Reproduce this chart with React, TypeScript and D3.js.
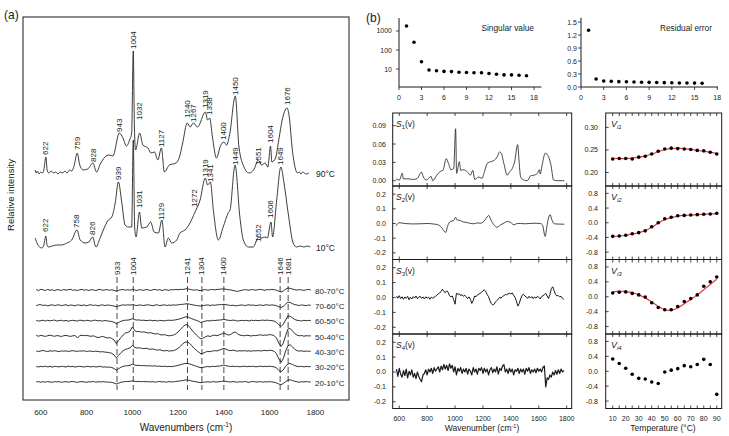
import React from "react";
import * as d3 from "d3";

type Pt = [number, number];

const FONT = "'Liberation Sans', Arial, Helvetica, sans-serif";
const INK = "#1a1a1a";

// ---------------- Panel (a) data ----------------
const spectrum90: Pt[] = [
  [575, 2], [580, -1], [585, 1], [592, -2], [600, 0], [607, -1], [613, 2], [622, 15], [628, 1], [635, -1],
  [645, 1], [655, -1], [665, 0], [675, -2], [685, 0], [695, -1], [705, 1], [715, -1], [725, 2], [735, 1],
  [745, 6], [759, 19], [770, 7], [785, 2], [805, 3], [828, 9], [843, 0], [860, 8], [880, 15], [898, 17],
  [915, 16], [943, 39], [959, 34], [974, 26], [988, 32], [997, 39], [1004, 121], [1009, 45], [1014, 22],
  [1032, 39], [1046, 27], [1068, 24], [1082, 19], [1097, 20], [1111, 12], [1127, 24], [1140, 0], [1162, 7],
  [1191, 9], [1206, 15], [1220, 29], [1240, 49], [1253, 45], [1267, 49], [1285, 45], [1319, 60], [1329, 52],
  [1338, 54], [1350, 35], [1368, 14], [1385, 26], [1400, 30], [1412, 27], [1425, 37], [1450, 76], [1466, 25],
  [1488, 5], [1510, -1], [1530, 2], [1551, 12], [1565, 7], [1580, 9], [1592, 5], [1604, 26], [1610, 10],
  [1626, 14], [1640, 32], [1655, 52], [1676, 64], [1686, 55], [1698, 25], [1713, 3], [1722, -1], [1730, 0],
  [1737, -2], [1745, 0], [1752, -1], [1760, -2], [1772, -1],
];

const spectrum10: Pt[] = [
  [575, 9], [585, 3], [595, 0], [604, -1], [612, 1], [622, 11], [627, 2], [633, 0], [650, 1], [670, 2],
  [690, 2], [714, 4], [735, 7], [758, 17], [772, 7], [793, 4], [810, 5], [826, 10], [841, 0], [859, 9],
  [873, 17], [895, 27], [910, 30], [925, 44], [939, 65], [954, 44], [968, 22], [982, 20], [997, 20],
  [1004, 107], [1010, 20], [1016, 10], [1031, 35], [1041, 19], [1063, 20], [1080, 25], [1095, 15], [1114, 14],
  [1129, 27], [1143, 0], [1157, 9], [1172, 4], [1194, 7], [1208, 14], [1230, 17], [1252, 24], [1272, 34],
  [1296, 47], [1319, 69], [1329, 62], [1341, 65], [1354, 37], [1376, 7], [1397, 20], [1419, 34], [1427, 37],
  [1449, 82], [1470, 30], [1485, 7], [1507, 0], [1528, 0], [1552, 10], [1565, 9], [1579, 10], [1590, 9],
  [1606, 25], [1613, 10], [1631, 47], [1649, 80], [1663, 64], [1681, 34], [1703, 4], [1718, 0], [1735, 1],
  [1750, 0], [1765, 1], [1778, 0],
];

// peak labels: [wavenumber, height of label foot above the trace baseline]
const peaks90: Pt[] = [
  [622, 17], [759, 22], [828, 10], [943, 40], [1004, 123], [1032, 52], [1127, 25], [1240, 54],
  [1267, 50], [1319, 64], [1338, 57], [1400, 32], [1450, 77], [1551, 7], [1604, 29], [1676, 67],
];
const peaks10: Pt[] = [
  [622, 15], [758, 19], [826, 12], [939, 67], [1031, 39], [1129, 27], [1272, 40], [1319, 70],
  [1341, 65], [1449, 82], [1552, 5], [1606, 29], [1649, 82],
];

const diffWavenumbers = [
  580, 590, 600, 610, 620, 630, 640, 650, 660, 670,
  680, 690, 700, 710, 720, 730, 740, 750, 760, 770,
  780, 790, 800, 810, 820, 830, 840, 850, 860, 870,
  880, 890, 900, 910, 920, 930, 940, 950, 960, 970,
  980, 990, 1000, 1010, 1020, 1030, 1040, 1050, 1060, 1070,
  1080, 1090, 1100, 1110, 1120, 1130, 1140, 1150, 1160, 1170,
  1180, 1190, 1200, 1210, 1220, 1230, 1240, 1250, 1260, 1270,
  1280, 1290, 1300, 1310, 1320, 1330, 1340, 1350, 1360, 1370,
  1380, 1390, 1400, 1410, 1420, 1430, 1440, 1450, 1460, 1470,
  1480, 1490, 1500, 1510, 1520, 1530, 1540, 1550, 1560, 1570,
  1580, 1590, 1600, 1610, 1620, 1630, 1640, 1650, 1660, 1670,
  1680, 1690, 1700, 1710, 1720, 1730, 1740, 1750, 1760, 1770,
  1780,
];

const diffLabels = ["80-70°C", "70-60°C", "60-50°C", "50-40°C", "40-30°C", "30-20°C", "20-10°C"];

const diff80_70 = [
  0.5, -0.6, 0.7, 0.1, -0.5, 0.6, -0.3, 0.3, -0.7, 0.4,
  0.1, -0.5, 0.6, -0.2, 0.3, 0.7, -0.3, 0.1, -0.6, 0.3,
  0.6, -0.2, 0.3, -0.5, 0.4, 0.1, -0.6, 0.3, 0.6, -0.3,
  0.1, 0.4, -0.3, 0.3, -0.5, -1.0, -0.4, 0.3, 0.5, -0.2,
  0.3, -0.3, 0.7, 0.1, -0.5, 0.4, 0, -0.3, 0.5, 0.1,
  -0.5, 0.3, 0.6, -0.2, 0.4, -0.6, 0.3, 0.1, -0.3, 0.4,
  0.1, 0.6, 0.2, 0.7, 0.5, 1.0, 1.3, 0.7, 0.3, -0.2,
  0.3, -0.4, -0.5, 0.1, 0.4, -0.3, 0.3, 0.5, 0.1, 0.6,
  0.7, 1.0, 1.1, 0.7, 0.3, 0.1, -0.5, -1.0, -1.4, -0.7,
  -0.3, 0.4, 0.1, -0.3, 0.5, 0.2, -0.2, 0.4, 0.6, 0.2,
  -0.3, 0.5, 0.1, 0.7, 0.3, -0.2, -1.2, -2.0, -0.9, 0.8,
  2.0, 1.6, 0.9, 0.4, -0.2, 0.4, 0.1, -0.4, 0.3, 0.5,
  0.1,
];
const diff70_60 = [
  -0.3, 0.5, 0.6, -0.2, 0.3, -0.6, 0.1, 0.5, -0.3, 0.3,
  0.4, -0.3, 0.1, 0.6, -0.4, 0.3, 0, -0.5, 0.4, 0.1,
  -0.2, 0.4, -0.5, 0.3, 0.5, -0.2, 0.3, -0.6, 0.1, 0.4,
  -0.3, 0.3, 0.1, -0.4, -0.7, -1.4, -0.7, 0, 0.4, 0.1,
  0.5, 0.2, 0.6, 0.1, -0.3, 0.4, 0.1, -0.2, 0.3, 0.5,
  0, -0.4, 0.3, 0.4, -0.3, 0.1, 0.5, -0.2, 0.3, 0,
  0.4, 0.1, 0.5, 0.8, 1.0, 1.3, 1.6, 1.1, 0.6, 0.2,
  -0.2, -0.5, -0.7, -0.3, 0.1, 0.4, -0.2, 0.3, 0, 0.4,
  0.6, 0.7, 1.0, 0.6, 0.2, -0.2, 0.1, -0.5, -0.3, 0.1,
  0.4, -0.3, 0.1, 0.5, 0, 0.3, -0.4, 0.1, 0.4, -0.2,
  0.3, 0.5, 0, 0.4, 0.1, -0.4, -1.4, -2.2, -1.0, 1.2,
  3.2, 2.8, 1.6, 0.7, 0.2, -0.2, 0.4, 0, -0.3, 0.3,
  0,
];
const diff60_50 = [
  0.3, -0.4, 0.1, 0.5, -0.3, 0.4, -0.2, 0.3, 0.6, -0.3,
  0.1, 0.4, -0.3, 0.3, -0.5, 0.1, 0.4, 0, -0.3, 0.5,
  0.3, -0.3, 0.4, 0.1, -0.4, 0.3, 0.5, -0.2, 0.1, -0.4,
  0.2, -0.2, -0.5, -0.8, -1.6, -3.0, -1.8, -0.6, 0.2, 0.5,
  0.6, 1.0, 2.0, 1.1, 0.6, 0.8, 0.3, 0.5, 0.1, 0.3,
  0.5, 0, 0.3, -0.3, 0.4, 0.1, -0.2, 0.3, 0.5, 0.3,
  0.5, 0.9, 1.4, 2.0, 2.8, 3.6, 4.0, 3.0, 2.0, 1.1,
  0.3, -0.6, -1.8, -1.0, -0.4, 0.1, -0.3, 0.4, 0.1, 0.5,
  0.6, 0.9, 1.3, 0.8, 0.4, 0.2, 0.6, 0.3, -0.3, 0.1,
  0.4, 0, 0.3, -0.3, 0.5, 0.1, 0.4, 0, 0.3, 0.6,
  0.3, 0.6, 0.2, 0.1, -0.4, -1.6, -4.0, -5.8, -3.4, 0.8,
  4.8, 4.4, 2.8, 1.2, 0.4, 0.1, -0.3, 0.4, 0, 0.3,
  0.1,
];
const diff50_40 = [
  0.5, -0.2, 0.6, 0.1, -0.4, 0.3, 0.8, 0.2, -0.3, 0.4,
  0.1, -0.5, 0.3, 0.6, 0, -0.4, 0.2, 0.5, -2.0, 0.4,
  0.8, 0.3, 0.6, 0.1, -0.3, 0.2, -0.8, -1.6, -1.0, -0.4,
  -1.2, -2.0, -1.6, -2.4, -4.0, -7.5, -4.5, -1.5, 1.0, 3.0,
  3.5, 5.0, 9.0, 5.5, 4.2, 4.6, 3.8, 4.2, 3.5, 3.0,
  3.4, 2.6, 2.0, 2.4, 1.5, 1.0, 1.4, 0.6, 0.2, 0.5,
  1.0, 2.2, 4.0, 6.5, 9.0, 11.0, 11.5, 9.0, 6.0, 3.5,
  1.0, -1.2, -3.0, -2.0, -0.8, 0.2, -0.5, 0.4, 0.8, 0.3,
  1.2, 2.0, 3.0, 1.8, 1.0, 1.5, 3.2, 4.0, 2.2, 0.8,
  0.5, 0.2, 0.8, 0.4, 0, 0.6, 0.3, 0.9, 1.2, 0.6,
  1.0, 0.8, 1.4, 1.2, 0.3, -2.0, -7.0, -10.5, -7.0, 0.5,
  7.0, 7.5, 5.0, 2.4, 0.8, 0.2, 0.5, -0.2, 0.3, 0.1,
  0.2,
];
const diff40_30 = [
  0.3, -0.3, 0.4, 0.8, 0.2, -0.2, 0.5, 0.1, 0.6, 0.2,
  -0.3, 0.4, 0.1, 0.5, -0.2, 0.3, 0.6, 0.2, -0.1, 0.4,
  0.2, 0.5, -0.2, 0.3, 0.1, -0.3, 0.2, -0.2, -0.6, -0.4,
  -0.8, -1.0, -1.4, -2.0, -3.6, -6.5, -4.0, -1.5, 0.6, 2.0,
  2.6, 3.4, 6.0, 4.0, 3.2, 3.6, 3.0, 2.6, 3.1, 2.4,
  2.0, 2.4, 1.6, 1.2, 1.6, 0.8, 0.4, 0.9, 0.2, 0.5,
  0.6, 1.6, 3.0, 5.0, 7.5, 9.0, 9.5, 8.0, 5.5, 3.0,
  1.0, -0.8, -2.6, -1.8, -0.8, 0, -0.4, 0.3, 0.6, 0.4,
  1.2, 2.0, 3.0, 2.0, 1.0, 0.6, 1.2, 0.5, 0.2, 0.6,
  0.3, 0.7, 0.2, 0.5, 0.1, 0.6, 0.4, 0.8, 0.3, 0.6,
  0.9, 0.5, 1.1, 0.8, 0, -2.4, -7.5, -11.0, -7.2, 0.2,
  5.5, 6.5, 4.4, 2.0, 0.6, 0.2, 0.5, -0.1, 0.3, 0,
  0.2,
];
const diff30_20 = [
  0.3, -0.3, 0.4, 0, 0.5, -0.2, 0.3, -0.4, 0.4, 0.1,
  -0.2, 0.4, 0.1, -0.3, 0.5, 0, 0.3, -0.4, 0.1, 0.4,
  0, -0.3, 0.4, 0.1, -0.2, 0.3, -0.3, 0, 0.4, -0.4,
  -0.2, -0.5, -0.4, -0.8, -1.8, -3.6, -2.0, -0.6, 0.4, 0.8,
  1.0, 1.4, 2.6, 1.6, 1.2, 1.4, 1.0, 1.2, 0.8, 1.0,
  0.8, 0.6, 0.9, 0.4, 0.6, 0.2, 0.5, 0.1, 0.3, 0,
  0.4, 0.8, 1.4, 2.0, 2.6, 3.2, 3.4, 2.8, 2.0, 1.2,
  0.4, -0.4, -1.0, -0.6, -0.2, 0.2, -0.2, 0.4, 0.1, 0.5,
  0.6, 1.0, 1.6, 1.0, 0.5, 0.2, 0.5, 0.1, 0.4, -0.2,
  0.3, 0.5, 0, 0.4, 0.1, 0.5, -0.2, 0.3, 0.5, 0.1,
  0.4, 0.1, 0.5, 0.2, -0.2, -1.2, -3.6, -5.0, -3.2, 0.4,
  2.8, 3.2, 2.2, 1.0, 0.4, 0, 0.4, -0.2, 0.3, 0,
  0.1,
];
const diff20_10 = [
  0.1, 0.4, -0.3, 0.3, -0.2, 0.5, 0, -0.3, 0.4, 0.1,
  0.3, -0.3, 0.1, 0.4, -0.2, 0.3, 0.5, 0, -0.4, 0.3,
  0.4, 0, -0.3, 0.3, 0.1, 0.5, -0.2, 0.3, 0, 0.4,
  0.1, -0.1, -0.2, -0.4, -1.0, -2.0, -1.2, -0.3, 0.2, 0.4,
  0.5, 0.6, 1.2, 0.7, 0.4, 0.6, 0.3, 0.5, 0.2, 0.4,
  0.1, 0.4, -0.2, 0.3, 0.5, 0, 0.3, -0.2, 0.4, 0.1,
  0.2, 0.5, 0.8, 1.1, 1.5, 1.9, 2.1, 1.6, 1.0, 0.5,
  0.1, -0.3, -0.7, -0.3, 0, 0.3, -0.2, 0.4, 0.1, 0,
  0.3, 0.6, 0.9, 0.5, 0.2, 0, 0.4, 0.1, -0.2, 0.3,
  0, 0.4, 0.1, -0.3, 0.3, 0.5, 0, 0.1, 0.4, -0.2,
  0.3, 0, 0.4, 0.1, -0.3, -0.9, -2.0, -2.6, -1.5, 0.4,
  1.9, 2.2, 1.5, 0.7, 0.2, -0.2, 0.3, 0, 0.4, 0.1,
  0,
];
const diffMarkers = [933, 1004, 1241, 1304, 1400, 1646, 1681];

// ---------------- Panel (b) data ----------------
const singularIndex = [1, 2, 3, 4, 5, 6, 7, 8, 9, 10, 11, 12, 13, 14, 15, 16, 17];
const singularValues = [1830, 255, 24, 8.9, 8.1, 7.5, 7.3, 6.8, 6.6, 6.4, 6.4, 5.8, 5.3, 4.9, 4.9, 4.7, 4.4];
const residualIndex = [1, 2, 3, 4, 5, 6, 7, 8, 9, 10, 11, 12, 13, 14, 15, 16];
const residualValues = [1.31, 0.185, 0.14, 0.13, 0.123, 0.12, 0.115, 0.11, 0.107, 0.105, 0.1, 0.098, 0.094, 0.092, 0.09, 0.087];
const singularTicksY = [10, 100, 1000];
const indexTicks = [0, 3, 6, 9, 12, 15, 18];
const residualTicksY = [0, 0.3, 0.6, 0.9, 1.2, 1.5];

const s1: Pt[] = [
  [576, 0.003], [600, 0.001], [622, 0.012], [629, 0.003], [665, 0.003], [701, 0.002], [730, 0.004],
  [759, 0.014], [773, 0.006], [792, 0.001], [828, 0.007], [840, 0.0], [869, 0.009], [893, 0.015],
  [913, 0.017], [937, 0.036], [953, 0.028], [970, 0.018], [990, 0.02], [1004, 0.085], [1011, 0.012],
  [1031, 0.031], [1040, 0.017], [1062, 0.018], [1086, 0.015], [1110, 0.009], [1127, 0.017], [1141, 0.002],
  [1170, 0.006], [1194, 0.004], [1211, 0.015], [1230, 0.028], [1254, 0.031], [1278, 0.033], [1302, 0.039],
  [1319, 0.047], [1331, 0.045], [1350, 0.028], [1374, 0.009], [1393, 0.015], [1410, 0.02], [1427, 0.031],
  [1449, 0.059], [1458, 0.034], [1470, 0.006], [1494, 0.001], [1518, 0.0], [1542, 0.008], [1566, 0.009],
  [1590, 0.012], [1604, 0.018], [1610, 0.011], [1626, 0.028], [1646, 0.045], [1670, 0.039], [1687, 0.026],
  [1706, 0.001], [1735, 0.0], [1783, 0.0],
];
const s2: Pt[] = [
  [576, -0.016], [600, 0.005], [640, 0.0], [700, -0.003], [750, -0.002], [800, 0.0], [850, -0.004],
  [881, -0.01], [905, -0.03], [933, -0.061], [946, -0.02], [965, 0.014], [990, 0.02], [1004, 0.043],
  [1012, 0.025], [1038, 0.02], [1060, 0.01], [1086, 0.007], [1110, 0.0], [1134, -0.002], [1160, 0.004],
  [1182, 0.002], [1206, 0.014], [1230, 0.045], [1241, 0.055], [1254, 0.03], [1278, -0.009], [1302, -0.025],
  [1326, -0.009], [1350, 0.002], [1374, 0.014], [1398, 0.007], [1422, -0.009], [1446, 0.0], [1470, 0.0],
  [1500, -0.002], [1540, 0.0], [1580, 0.002], [1610, 0.0], [1626, -0.009], [1646, -0.088], [1658, -0.02],
  [1668, 0.03], [1681, 0.06], [1692, 0.03], [1711, -0.002], [1740, -0.004], [1783, -0.005],
];
const s3 = [
  0.01, -0.005, 0.012, -0.008, 0.005, -0.012, 0.004, -0.006, 0.008, -0.015,
  0.002, -0.01, 0.006, -0.004, 0.01, -0.008, 0.003, 0.008, -0.006, 0.004,
  -0.01, 0.005, -0.004, 0.002, -0.012, 0.004, -0.006, 0.002, 0.008, 0.015,
  0.025, 0.03, 0.042, 0.055, 0.04, 0.032, 0.045, 0.035, 0.012, 0.005,
  0.01, -0.015, -0.045, 0.03, 0.02, 0.025, 0.012, 0.02, 0.008, 0.015,
  0.005, -0.008, 0.004, -0.012, -0.04, -0.02, 0.01, 0.005, 0.018, 0.022,
  0.028, 0.035, 0.045, 0.052, 0.04, 0.02, 0.005, -0.02, -0.042, -0.05,
  -0.045, -0.03, -0.02, -0.01, 0.002, -0.005, 0.008, 0.012, 0.02, 0.018,
  0.025, 0.028, 0.024, 0.03, 0.015, 0.0, -0.025, -0.058, -0.04, -0.01,
  0.015, 0.022, 0.01, 0.004, -0.006, 0.008, -0.004, 0.006, -0.008, 0.004,
  -0.005, 0.008, 0.002, -0.01, 0.006, 0.012, 0.018, 0.028, 0.01, -0.006,
  0.02, 0.06, 0.072, 0.045, 0.02, 0.01, 0.014, 0.004, 0.008, -0.006,
  -0.012,
];
const s4 = [
  0.02, -0.03, 0.025, -0.015, -0.035, 0.01, -0.025, 0.02, -0.04, 0.005,
  -0.02, 0.015, -0.035, -0.01, -0.045, 0.0, -0.03, -0.05, -0.065, -0.02,
  -0.01, 0.015, -0.02, 0.02, 0.0, 0.025, -0.01, 0.03, 0.005, 0.02,
  0.035, 0.0, 0.04, 0.015, 0.05, 0.02, 0.045, 0.01, 0.055, 0.025,
  0.045, 0.0, 0.035, -0.02, 0.025, 0.005, 0.03, -0.01, 0.02, 0.0,
  0.025, -0.015, 0.02, 0.005, -0.02, 0.03, 0.0, 0.02, -0.015, 0.025,
  0.01, 0.03, -0.01, 0.025, 0.0, 0.02, -0.02, 0.015, 0.03, -0.005,
  0.02, 0.0, 0.035, -0.015, 0.025, 0.01, 0.04, 0.05, 0.0, 0.02,
  -0.01, 0.025, 0.0, 0.02, -0.02, 0.015, 0.005, 0.025, -0.01, 0.02,
  0.0, 0.02, -0.015, 0.025, 0.005, 0.03, -0.01, 0.015, 0.0, 0.02,
  -0.005, 0.025, 0.005, 0.02, 0.0, 0.03, 0.04, -0.1, -0.04, -0.05,
  -0.02, -0.035, 0.0, -0.02, 0.01, -0.015, 0.015, -0.01, 0.02, 0.0,
  0.01,
];
const sTicksX = [600, 800, 1000, 1200, 1400, 1600, 1800];

const temps = [10, 15, 20, 25, 30, 35, 40, 45, 50, 55, 60, 65, 70, 75, 80, 85, 90];
const tempTickLabels = [10, 20, 30, 40, 50, 60, 70, 80, 90];
const v1 = [0.230, 0.231, 0.231, 0.230, 0.234, 0.236, 0.241, 0.247, 0.252, 0.254, 0.253, 0.252, 0.251, 0.249, 0.248, 0.245, 0.241];
const v1Fit = [0.231, 0.231, 0.231, 0.232, 0.234, 0.237, 0.241, 0.246, 0.251, 0.253, 0.254, 0.253, 0.251, 0.249, 0.247, 0.245, 0.242];
const v2 = [-0.37, -0.36, -0.34, -0.30, -0.27, -0.22, -0.11, 0.0, 0.11, 0.15, 0.19, 0.20, 0.21, 0.22, 0.23, 0.24, 0.26];
const v2Fit = [-0.37, -0.36, -0.34, -0.31, -0.27, -0.21, -0.12, -0.01, 0.08, 0.14, 0.18, 0.20, 0.21, 0.22, 0.23, 0.24, 0.25];
const v3 = [0.10, 0.12, 0.13, 0.09, 0.05, -0.01, -0.16, -0.29, -0.35, -0.35, -0.26, -0.13, -0.05, 0.05, 0.28, 0.40, 0.53];
const v3Fit = [0.13, 0.15, 0.14, 0.11, 0.05, -0.03, -0.14, -0.26, -0.35, -0.36, -0.30, -0.19, -0.07, 0.05, 0.19, 0.33, 0.47];
const v4 = [0.33, 0.21, 0.08, -0.08, -0.19, -0.21, -0.29, -0.33, -0.02, 0.03, 0.07, 0.15, 0.12, 0.18, 0.32, 0.18, -0.62];

// ---------------- Component ----------------
export default function App() {
  // ---- panel (a) scales ----
  const ax = d3.scaleLinear().domain([522, 1947]).range([23, 349]);
  const ay = d3.scaleLinear().domain([0, 383]).range([400, 17]);
  const OFF90 = 228;
  const OFF10 = 153;
  const diffOffsets = [110, 94.7, 79.3, 64, 48.7, 33.3, 18];
  const diffSeries = [diff80_70, diff70_60, diff60_50, diff50_40, diff40_30, diff30_20, diff20_10];

  const specPath = (data: Pt[], off: number) =>
    d3.line<Pt>().x((d) => ax(d[0])).y((d) => ay(d[1] + off)).curve(d3.curveMonotoneX)(data) || "";
  const gridPath = (vals: number[], off: number) =>
    d3.line<number>().x((_, i) => ax(diffWavenumbers[i])).y((d) => ay(d + off))(vals) || "";

  const peakLabel = (p: Pt, off: number, key: string) => {
    const x = ax(p[0]);
    const y = ay(off + p[1]);
    return (
      <text key={key} transform={`translate(${x},${y}) rotate(-90)`} fontSize={8} textAnchor="start"
        dominantBaseline="central" fill={INK}>{p[0]}</text>
    );
  };

  // ---- panel (b) scales ----
  const svx = d3.scaleLinear().domain([0, 19]).range([399, 541.5]);
  const svy = d3.scaleLog().domain([1.13, 4830]).range([87, 18]);
  const rvx = d3.scaleLinear().domain([0, 18.1]).range([581, 718]);
  const rvy = d3.scaleLinear().domain([0, 1.6]).range([87, 17.7]);

  const rowEdges = [113, 186, 259.5, 334, 408.5];
  const sx = d3.scaleLinear().domain([553, 1836]).range([392.7, 571.7]);
  const vx = d3.scaleLinear().domain([4.6, 93.8]).range([605.7, 721.7]);

  const sDomains: [number, number][] = [[-0.0087, 0.1108], [-0.245, 0.255], [-0.245, 0.255], [-0.245, 0.255]];
  const sTicks = [[0, 0.03, 0.06, 0.09], [-0.2, -0.1, 0, 0.1, 0.2], [-0.2, -0.1, 0, 0.1, 0.2], [-0.2, -0.1, 0, 0.1, 0.2]];
  const sDigits = [2, 1, 1, 1];
  const vDomains: [number, number][] = [[0.17, 0.332], [-1, 1], [-1, 1], [-1, 1]];
  const vTicks = [[0.2, 0.25, 0.3], [-0.8, -0.4, 0, 0.4, 0.8], [-0.8, -0.4, 0, 0.4, 0.8], [-0.8, -0.4, 0, 0.4, 0.8]];
  const vDigits = [2, 1, 1, 1];
  const vSeries = [v1, v2, v3, v4];
  const vFits: (number[] | null)[] = [v1Fit, v2Fit, v3Fit, null];

  const fmt = (v: number, d: number) => (Math.abs(v) < 1e-9 ? (0).toFixed(d) : v.toFixed(d));

  const sPanels = [0, 1, 2, 3].map((i) => {
    const top = rowEdges[i];
    const bot = rowEdges[i + 1];
    const y = d3.scaleLinear().domain(sDomains[i]).range([bot, top]);
    let d = "";
    if (i === 0) d = d3.line<Pt>().x((p) => sx(p[0])).y((p) => y(p[1])).curve(d3.curveMonotoneX)(s1) || "";
    else if (i === 1) d = d3.line<Pt>().x((p) => sx(p[0])).y((p) => y(p[1])).curve(d3.curveMonotoneX)(s2) || "";
    else {
      const vals = i === 2 ? s3 : s4;
      d = d3.line<number>().x((_, k) => sx(diffWavenumbers[k])).y((v) => y(v))(vals) || "";
    }
    return (
      <g key={"s" + i}>
        <path d={d} fill="none" stroke={INK} strokeWidth={i === 3 ? 1.2 : i === 2 ? 1.0 : 0.8} strokeLinejoin="round" />
        <rect x={sx.range()[0]} y={top} width={sx.range()[1] - sx.range()[0]} height={bot - top}
          fill="none" stroke={INK} strokeWidth={1} />
        {sTicksX.map((t) => (
          <g key={t}>
            <line x1={sx(t)} x2={sx(t)} y1={bot} y2={bot - 3} stroke={INK} strokeWidth={0.8} />
            <line x1={sx(t)} x2={sx(t)} y1={top} y2={top + 3} stroke={INK} strokeWidth={0.8} />
          </g>
        ))}
        {sTicks[i].map((t) => (
          <g key={t}>
            <line x1={sx.range()[0]} x2={sx.range()[0] + 3} y1={y(t)} y2={y(t)} stroke={INK} strokeWidth={0.8} />
            <text x={386} y={y(t)} fontSize={7} textAnchor="end" dominantBaseline="central" fill={INK}>
              {fmt(t, sDigits[i])}
            </text>
          </g>
        ))}
        <text x={396} y={top + 14} fontSize={8.5} fill={INK}>
          <tspan fontStyle="italic">S</tspan>
          <tspan fontSize={6} dy={2}>{i + 1}</tspan>
          <tspan dy={-2}>(v)</tspan>
        </text>
      </g>
    );
  });

  const vPanels = [0, 1, 2, 3].map((i) => {
    const top = rowEdges[i];
    const bot = rowEdges[i + 1];
    const y = d3.scaleLinear().domain(vDomains[i]).range([bot, top]);
    const fit = vFits[i];
    const fitPath = fit
      ? d3.line<number>().x((_, k) => vx(temps[k])).y((v) => y(v)).curve(d3.curveCatmullRom.alpha(0.5))(fit) || ""
      : "";
    return (
      <g key={"v" + i}>
        {fit && <path d={fitPath} fill="none" stroke="#e8393f" strokeWidth={1.2} />}
        {vSeries[i].map((v, k) => (
          <circle key={k} cx={vx(temps[k])} cy={y(v)} r={1.8} fill="#000" />
        ))}
        <rect x={vx.range()[0]} y={top} width={vx.range()[1] - vx.range()[0]} height={bot - top}
          fill="none" stroke={INK} strokeWidth={1} />
        {temps.map((t) => (
          <g key={t}>
            <line x1={vx(t)} x2={vx(t)} y1={bot} y2={bot - 3} stroke={INK} strokeWidth={0.8} />
            <line x1={vx(t)} x2={vx(t)} y1={top} y2={top + 3} stroke={INK} strokeWidth={0.8} />
          </g>
        ))}
        {vTicks[i].map((t) => (
          <g key={t}>
            <line x1={vx.range()[0]} x2={vx.range()[0] + 3} y1={y(t)} y2={y(t)} stroke={INK} strokeWidth={0.8} />
            <text x={598} y={y(t)} fontSize={7} textAnchor="end" dominantBaseline="central" fill={INK}>
              {fmt(t, vDigits[i])}
            </text>
          </g>
        ))}
        <text x={611} y={top + 14} fontSize={9} fill={INK}>
          <tspan fontStyle="italic">V</tspan>
          <tspan fontSize={6} dy={2} fontStyle="italic">{"i" + (i + 1)}</tspan>
        </text>
      </g>
    );
  });

  return (
    <svg width={729} height={436} viewBox="0 0 729 436"
      style={{ position: "absolute", left: 0, top: 0, background: "#fff" }}
      fontFamily={FONT}>
      <rect x={0} y={0} width={729} height={436} fill="#fff" />

      {/* ================= Panel (a) ================= */}
      <text x={4} y={19} fontSize={12} fill={INK}>(a)</text>
      <rect x={23} y={17} width={326} height={383} fill="none" stroke={INK} strokeWidth={1} />
      <text transform="translate(10,195) rotate(-90)" fontSize={9.5} textAnchor="middle"
        dominantBaseline="central" fill={INK}>Relative intensity</text>

      <path d={specPath(spectrum10, OFF10)} fill="none" stroke={INK} strokeWidth={0.85} strokeLinejoin="round" />
      <path d={specPath(spectrum90, OFF90)} fill="none" stroke={INK} strokeWidth={0.85} strokeLinejoin="round" />
      {peaks90.map((p, i) => peakLabel(p, OFF90, "p90-" + i))}
      {peaks10.map((p, i) => peakLabel(p, OFF10, "p10-" + i))}
      <text x={316} y={ay(OFF90) + 2} fontSize={8.5} dominantBaseline="central" fill={INK}>90°C</text>
      <text x={316} y={ay(OFF10) + 1} fontSize={8.5} dominantBaseline="central" fill={INK}>10°C</text>

      {diffMarkers.map((m) => (
        <g key={m}>
          <line x1={ax(m)} x2={ax(m)} y1={277} y2={390} stroke={INK} strokeWidth={0.8} strokeDasharray="6,3" />
          <text transform={`translate(${ax(m)},275) rotate(-90)`} fontSize={8} textAnchor="start"
            dominantBaseline="central" fill={INK}>{m}</text>
        </g>
      ))}
      {diffSeries.map((vals, i) => (
        <g key={"d" + i}>
          <path d={gridPath(vals, diffOffsets[i])} fill="none" stroke={INK} strokeWidth={0.9} strokeLinejoin="round" />
          <text x={315} y={ay(diffOffsets[i]) + 1} fontSize={8} dominantBaseline="central" fill={INK}>
            {diffLabels[i]}
          </text>
        </g>
      ))}

      {[600, 800, 1000, 1200, 1400, 1600, 1800].map((t) => (
        <text key={t} x={ax(t)} y={412} fontSize={8} textAnchor="middle" dominantBaseline="central" fill={INK}>{t}</text>
      ))}
      <text x={186} y={431} fontSize={10} textAnchor="middle" fill={INK}>
        Wavenumbers (cm<tspan fontSize={6.5} dy={-4}>-1</tspan><tspan dy={4}>)</tspan>
      </text>

      {/* ================= Panel (b) ================= */}
      <text x={366} y={22} fontSize={12} fill={INK}>(b)</text>

      {/* Singular value */}
      <line x1={svx(0)} x2={svx(0)} y1={18} y2={87} stroke={INK} strokeWidth={1} />
      <line x1={svx(0)} x2={svx(19)} y1={87} y2={87} stroke={INK} strokeWidth={1} />
      {singularTicksY.map((t) => (
        <g key={t}>
          <line x1={svx(0) - 3} x2={svx(0)} y1={svy(t)} y2={svy(t)} stroke={INK} strokeWidth={0.8} />
          <text x={392} y={svy(t)} fontSize={7} textAnchor="end" dominantBaseline="central" fill={INK}>{t}</text>
        </g>
      ))}
      {indexTicks.map((t) => (
        <g key={t}>
          <line x1={svx(t)} x2={svx(t)} y1={87} y2={90} stroke={INK} strokeWidth={0.8} />
          <text x={svx(t)} y={97} fontSize={7} textAnchor="middle" dominantBaseline="central" fill={INK}>{t}</text>
        </g>
      ))}
      {singularValues.map((v, i) => (
        <circle key={i} cx={svx(singularIndex[i])} cy={svy(v)} r={1.8} fill="#000" />
      ))}
      <text x={534} y={31} fontSize={8.3} textAnchor="end" fill={INK}>Singular value</text>

      {/* Residual error */}
      <line x1={rvx(0)} x2={rvx(0)} y1={17.7} y2={87} stroke={INK} strokeWidth={1} />
      <line x1={rvx(0)} x2={rvx(18.1)} y1={87} y2={87} stroke={INK} strokeWidth={1} />
      {residualTicksY.map((t) => (
        <g key={t}>
          <line x1={rvx(0) - 3} x2={rvx(0)} y1={rvy(t)} y2={rvy(t)} stroke={INK} strokeWidth={0.8} />
          <text x={577} y={rvy(t)} fontSize={7} textAnchor="end" dominantBaseline="central" fill={INK}>{t.toFixed(1)}</text>
        </g>
      ))}
      {indexTicks.map((t) => (
        <g key={t}>
          <line x1={rvx(t)} x2={rvx(t)} y1={87} y2={90} stroke={INK} strokeWidth={0.8} />
          <text x={rvx(t)} y={97} fontSize={7} textAnchor="middle" dominantBaseline="central" fill={INK}>{t}</text>
        </g>
      ))}
      {residualValues.map((v, i) => (
        <circle key={i} cx={rvx(residualIndex[i])} cy={rvy(v)} r={1.8} fill="#000" />
      ))}
      <text x={712} y={31} fontSize={8.3} textAnchor="end" fill={INK}>Residual error</text>

      {sPanels}
      {sTicksX.map((t) => (
        <text key={t} x={sx(t)} y={418} fontSize={7} textAnchor="middle" dominantBaseline="central" fill={INK}>{t}</text>
      ))}
      <text x={482} y={431} fontSize={8.5} textAnchor="middle" fill={INK}>
        Wavenumber (cm<tspan fontSize={5.5} dy={-3.5}>-1</tspan><tspan dy={3.5}>)</tspan>
      </text>

      {vPanels}
      {tempTickLabels.map((t) => (
        <text key={t} x={vx(t)} y={418} fontSize={7} textAnchor="middle" dominantBaseline="central" fill={INK}>{t}</text>
      ))}
      <text x={663} y={431} fontSize={8.5} textAnchor="middle" fill={INK}>Temperature (°C)</text>
    </svg>
  );
}
